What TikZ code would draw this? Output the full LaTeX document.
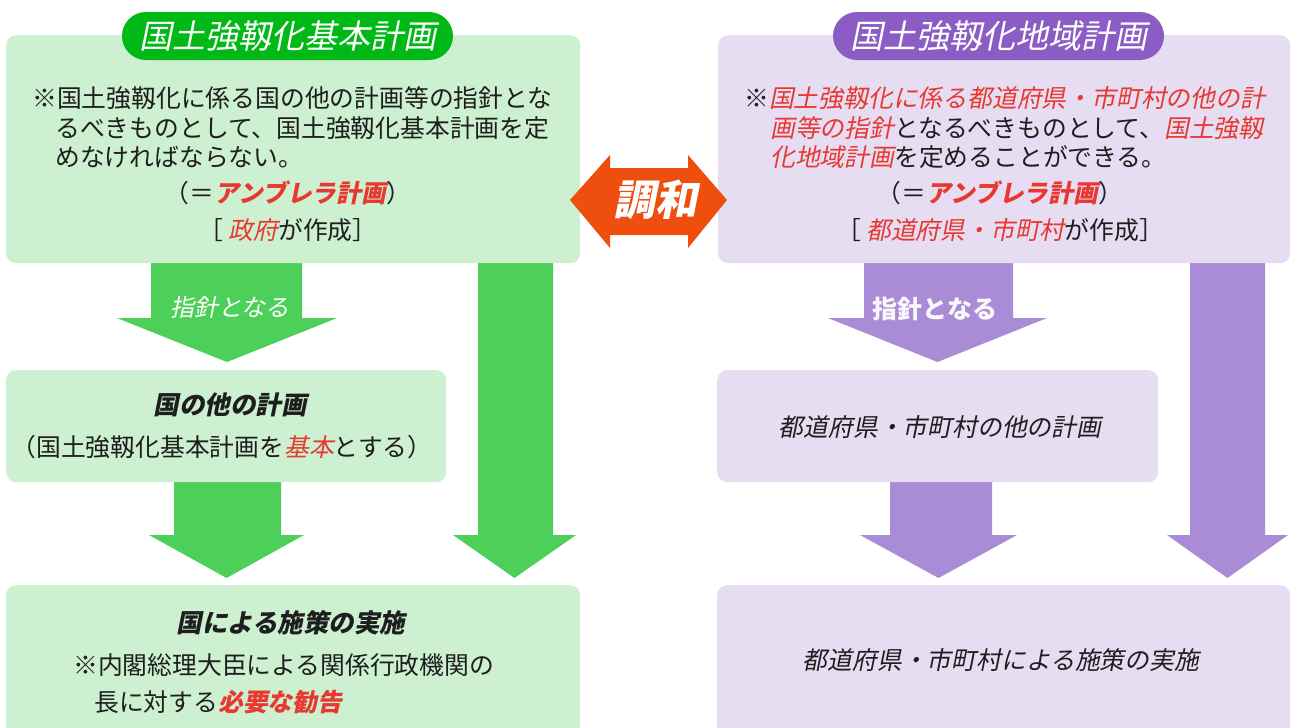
\documentclass[tikz,border=0pt]{standalone}
\usepackage{fontspec}
\newfontfamily\jp{Noto Sans CJK JP}
\newfontfamily\jpit[FakeSlant=0.2]{Noto Sans CJK JP}
\definecolor{boxG}{HTML}{CCF0D0}
\definecolor{arrG}{HTML}{4CD05A}
\definecolor{pillG}{HTML}{00B816}
\definecolor{boxP}{HTML}{E6DDF2}
\definecolor{arrP}{HTML}{A98BD6}
\definecolor{pillP}{HTML}{8A5CC4}
\definecolor{orng}{HTML}{EE4E0E}
\definecolor{redT}{HTML}{E8382F}
\definecolor{txt}{HTML}{1E1E1E}
\newcommand\rd[1]{{\jpit\color{redT}#1}}
\newcommand\rdb[1]{{\jpit\bfseries\color{redT}#1}}
% block arrow: style, shaftL, shaftR, headL, headR, top, headtop, tip
\newcommand\blkarrow[8]{\fill[#1] (#2,#6) -- (#3,#6) -- (#3,#7) -- (#5,#7) -- ({(#4+#5)/2},#8) -- (#4,#7) -- (#2,#7) -- cycle;}
\begin{document}
\begin{tikzpicture}[x=1pt,y=-1pt,
  box/.style={rectangle, rounded corners=10pt, inner sep=0pt, anchor=north west, draw=none},
  gbox/.style={box, fill=boxG},
  pbox/.style={box, fill=boxP},
  pill/.style={rectangle, rounded corners=24pt, inner sep=0pt, minimum width=331pt, minimum height=48pt, text=white, font=\jpit\fontsize{33}{36}\selectfont},
  body/.style={inner sep=0pt, text=txt, font=\jp\fontsize{24.8}{29}\selectfont},
  head/.style={inner sep=0pt, text=txt, font=\jpit\bfseries\fontsize{25.5}{30}\selectfont},
  headit/.style={inner sep=0pt, text=txt, font=\jpit\fontsize{24.8}{30}\selectfont},
  lbl/.style={inner sep=0pt, text=white}
]
\useasboundingbox (0,0) rectangle (1291,728);
\clip (0,0) rectangle (1291,728);
\fill[white] (0,0) rectangle (1291,728);

% block arrows (drawn under the boxes)
\blkarrow{arrG}{151}{302}{117}{337}{255}{318}{362}
\blkarrow{arrG}{174}{281}{149}{304}{475}{535}{578}
\blkarrow{arrG}{478}{553}{453}{576}{255}{535}{578}
\blkarrow{arrP}{864}{1013}{828}{1047}{255}{318}{362}
\blkarrow{arrP}{890}{992}{860}{1017}{475}{535}{578}
\blkarrow{arrP}{1190}{1265}{1167}{1288}{255}{535}{578}

% boxes
\node[gbox, minimum width=574pt, minimum height=228pt] (topL) at (6,35) {};
\node[pbox, minimum width=572pt, minimum height=228pt] (topR) at (718,35) {};
\node[gbox, minimum width=440pt, minimum height=112pt] (midL) at (6,370) {};
\node[pbox, minimum width=441pt, minimum height=112pt] (midR) at (717,370) {};
\node[gbox, minimum width=574pt, minimum height=160pt] (botL) at (6,585) {};
\node[pbox, minimum width=573pt, minimum height=160pt] (botR) at (717,585) {};

% title pills
\node[pill, fill=pillG] (titleL) at (287.5,36) {国土強靱化基本計画};
\node[pill, fill=pillP] (titleR) at (998.5,36) {国土強靱化地域計画};

% harmony double arrow
\fill[orng] (570,200) -- (610,155) -- (610,168) -- (688,168) -- (688,155) -- (727,200)
  -- (688,248) -- (688,235) -- (610,235) -- (610,248) -- cycle;
\node[lbl, font=\jpit\bfseries\fontsize{42}{46}\selectfont] (harm) at (655,200) {調和};

% top-left text
\node[body, anchor=west] (l1) at (32,98) {※国土強靱化に係る国の他の計画等の指針とな};
\node[body, anchor=west] (l2) at (55,128) {るべきものとして、国土強靱化基本計画を定};
\node[body, anchor=west] (l3) at (55,157) {めなければならない。};
\node[body] (l4) at (288,193) {（＝\rdb{アンブレラ計画}）};
\node[body] (l5) at (288,230) {［ \rd{政府}が作成］};

% top-right text
\node[body, anchor=west] (r1) at (744,98) {※\rd{国土強靱化に係る都道府県・市町村の他の計}};
\node[body, anchor=west] (r2) at (770,128) {\rd{画等の指針}となるべきものとして、\rd{国土強靱}};
\node[body, anchor=west] (r3) at (770,157) {\rd{化地域計画}を定めることができる。};
\node[body] (r4) at (1000,193) {（＝\rdb{アンブレラ計画}）};
\node[body] (r5) at (1000,230) {［ \rd{都道府県・市町村}が作成］};

% arrow labels
\node[lbl, font=\jpit\fontsize{24}{28}\selectfont] (gl) at (230,307) {指針となる};
\node[lbl, text=white!94!arrP, font=\jp\bfseries\fontsize{25}{28}\selectfont] (pl) at (935,309) {指針となる};

% middle boxes text
\node[head] (m1) at (230,405) {国の他の計画};
\node[body] (m2) at (222,447) {（国土強靱化基本計画を\rd{基本}とする）};
\node[headit] (m3) at (940,427) {都道府県・市町村の他の計画};

% bottom boxes text
\node[head] (b1) at (291,623) {国による施策の実施};
\node[body, anchor=west] (b2) at (73,665) {※内閣総理大臣による関係行政機関の};
\node[body, anchor=west] (b3) at (94,702) {長に対する\rdb{必要な勧告}};
\node[headit] (b4) at (1001,660) {都道府県・市町村による施策の実施};
\end{tikzpicture}
\end{document}
